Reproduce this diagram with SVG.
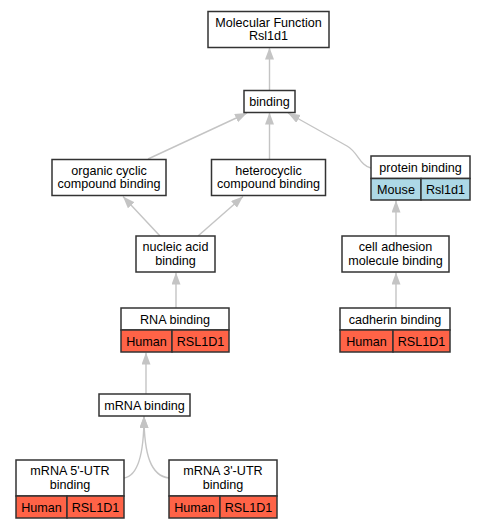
<svg xmlns="http://www.w3.org/2000/svg" width="487" height="528" viewBox="0 0 487 528">
<style>
.box{fill:#fff;stroke:#333;stroke-width:1.5}
.red{fill:#ff6347;stroke:#333;stroke-width:1.5}
.blue{fill:#add8e6;stroke:#333;stroke-width:1.5}
text{font-family:"Liberation Sans",Arial,sans-serif;font-size:12.6px;fill:#000;text-anchor:middle}
.edge{fill:none;stroke:#c4c4c4;stroke-width:1.4;marker-end:url(#ah)}
</style>
<defs>
<marker id="ah" markerUnits="userSpaceOnUse" markerWidth="13" markerHeight="10" refX="12" refY="4.5" orient="auto">
<path d="M0,0 L12,4.5 L0,9 Z" fill="#c4c4c4"/>
</marker>
</defs>
<rect width="487" height="528" fill="#fff"/>
<g id="edges">
<line class="edge" x1="269.5" y1="90.5" x2="269.5" y2="47.5"/>
<line class="edge" x1="148" y1="159" x2="247" y2="113"/>
<line class="edge" x1="269.5" y1="159" x2="269.5" y2="112.5"/>
<path class="edge" d="M371,168 C360,166 358,152 347,146 L288,113"/>
<line class="edge" x1="160" y1="236" x2="123" y2="196.5"/>
<line class="edge" x1="198" y1="236" x2="243" y2="196.5"/>
<line class="edge" x1="176" y1="308" x2="176" y2="272.5"/>
<line class="edge" x1="146" y1="394" x2="146" y2="352.5"/>
<path class="edge" d="M124,478 C138,476 144,455 144,416"/>
<path class="edge" d="M169,478 C151,476 144,455 144,416"/>
<line class="edge" x1="396" y1="236" x2="396" y2="200.5"/>
<line class="edge" x1="396" y1="308" x2="396" y2="272.5"/>
</g>
<g id="mf">
<rect class="box" x="208" y="11.5" width="121" height="36"/>
<text x="268.5" y="26.5">Molecular Function</text>
<text x="268.5" y="40">Rsl1d1</text>
</g>
<g id="binding">
<rect class="box" x="244" y="90.5" width="51" height="22"/>
<text x="269.5" y="106">binding</text>
</g>
<g id="organic">
<rect class="box" x="52" y="159.5" width="114" height="36"/>
<text x="109" y="174.5">organic cyclic</text>
<text x="109" y="188">compound binding</text>
</g>
<g id="hetero">
<rect class="box" x="211.5" y="159.5" width="114" height="36"/>
<text x="268.5" y="174.5">heterocyclic</text>
<text x="268.5" y="188">compound binding</text>
</g>
<g id="protein">
<rect class="box" x="371" y="156" width="99" height="22.5"/>
<text x="420.5" y="171.5">protein binding</text>
<rect class="blue" x="371" y="178.5" width="50" height="21.5"/>
<rect class="blue" x="421" y="178.5" width="49" height="21.5"/>
<text x="396" y="194">Mouse</text>
<text x="445.5" y="194">Rsl1d1</text>
</g>
<g id="nucleic">
<rect class="box" x="136" y="236" width="79" height="36"/>
<text x="175.5" y="251">nucleic acid</text>
<text x="175.5" y="264.5">binding</text>
</g>
<g id="celladh">
<rect class="box" x="342" y="236" width="107" height="36"/>
<text x="395.5" y="251">cell adhesion</text>
<text x="395.5" y="264.5">molecule binding</text>
</g>
<g id="rna">
<rect class="box" x="121" y="308" width="108" height="22"/>
<text x="175" y="323.5">RNA binding</text>
<rect class="red" x="121" y="330" width="51" height="22"/>
<rect class="red" x="172" y="330" width="57" height="22"/>
<text x="146.5" y="345.5">Human</text>
<text x="200.5" y="345.5">RSL1D1</text>
</g>
<g id="cadherin">
<rect class="box" x="340" y="308" width="110" height="22"/>
<text x="395" y="323.5">cadherin binding</text>
<rect class="red" x="340" y="330" width="53" height="22"/>
<rect class="red" x="393" y="330" width="57" height="22"/>
<text x="366.5" y="345.5">Human</text>
<text x="421.5" y="345.5">RSL1D1</text>
</g>
<g id="mrna">
<rect class="box" x="99" y="394" width="91" height="22"/>
<text x="144.5" y="409.5">mRNA binding</text>
</g>
<g id="utr5">
<rect class="box" x="16" y="460" width="108" height="36"/>
<text x="70" y="475">mRNA 5'-UTR</text>
<text x="70" y="488.5">binding</text>
<rect class="red" x="16" y="496" width="51" height="22"/>
<rect class="red" x="67" y="496" width="57" height="22"/>
<text x="41.5" y="511.5">Human</text>
<text x="95.5" y="511.5">RSL1D1</text>
</g>
<g id="utr3">
<rect class="box" x="169" y="460" width="108" height="36"/>
<text x="223" y="475">mRNA 3'-UTR</text>
<text x="223" y="488.5">binding</text>
<rect class="red" x="169" y="496" width="51" height="22"/>
<rect class="red" x="220" y="496" width="57" height="22"/>
<text x="194.5" y="511.5">Human</text>
<text x="248.5" y="511.5">RSL1D1</text>
</g>
</svg>
